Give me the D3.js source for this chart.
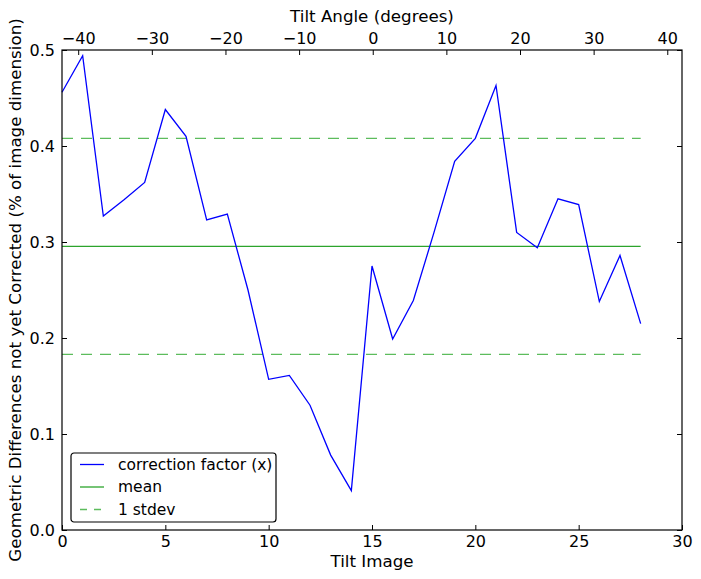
<!DOCTYPE html>
<html>
<head>
<meta charset="utf-8">
<script src="https://cdn.jsdelivr.net/npm/d3@7/dist/d3.min.js"></script>
<style>
  body { margin: 0; background: #fff; }
  text { font-family: "DejaVu Sans", sans-serif; fill: #000; }
</style>
</head>
<body>
<div id="chart"></div>
<script>
// correction factor for each tilt image
const tiltImages = d3.range(0, 29);
const correction = [0.456, 0.494, 0.327, 0.344, 0.362, 0.438, 0.410, 0.323, 0.329, 0.250,
                    0.157, 0.161, 0.130, 0.078, 0.041, 0.275, 0.199, 0.239, 0.310, 0.384,
                    0.408, 0.463, 0.310, 0.294, 0.345, 0.339, 0.238, 0.286, 0.215];
const meanValue = 0.2955;
const stdValue = 0.1125;
const xTicks = [0, 5, 10, 15, 20, 25, 30];
const yTicks = [0.0, 0.1, 0.2, 0.3, 0.4, 0.5];
const angleTicks = [-40, -30, -20, -10, 0, 10, 20, 30, 40];
const legendLabels = ["correction factor (x)", "mean", "1 stdev"];

const width = 701, height = 579;
const margin = {top: 50, right: 19, bottom: 49, left: 62};
const innerW = width - margin.left - margin.right;
const innerH = height - margin.top - margin.bottom;

const svg = d3.select("#chart").append("svg")
    .attr("width", width)
    .attr("height", height);

const g = svg.append("g")
    .attr("transform", `translate(${margin.left},${margin.top})`);

const x = d3.scaleLinear().domain([0, 30]).range([0, innerW]);
const xTop = d3.scaleLinear().domain([-42.2, 42.0]).range([0, innerW]);
const y = d3.scaleLinear().domain([0, 0.5]).range([innerH, 0]);

const blue = "#0000ff";
const green = "#2ca42c";
const greenDash = "#5cbc5c";

// reference lines
const refLines = [
    {v: meanValue, color: green, dash: null},
    {v: meanValue + stdValue, color: greenDash, dash: "11,8"},
    {v: meanValue - stdValue, color: greenDash, dash: "11,8"}
];
g.selectAll(".ref").data(refLines).enter().append("line")
    .attr("x1", x(0)).attr("x2", x(28))
    .attr("y1", d => y(d.v)).attr("y2", d => y(d.v))
    .attr("stroke", d => d.color)
    .attr("stroke-width", 1.3)
    .attr("stroke-dasharray", d => d.dash);

const line = d3.line()
    .x((d, i) => x(tiltImages[i]))
    .y(d => y(d));

g.append("path")
    .datum(correction)
    .attr("fill", "none")
    .attr("stroke", blue)
    .attr("stroke-width", 1.3)
    .attr("d", line);

// axes, ticks pointing inward
const tickLen = 5;
const fontSize = "16px";
const labelSize = "16.7px";

const axBottom = g.append("g")
    .attr("transform", `translate(0,${innerH})`)
    .call(d3.axisBottom(x).tickValues(xTicks).tickSizeInner(-tickLen).tickSizeOuter(0).tickPadding(6));
axBottom.selectAll("text").attr("font-size", fontSize);

const axTop = g.append("g")
    .call(d3.axisTop(xTop).tickValues(angleTicks).tickSizeInner(-tickLen).tickSizeOuter(0).tickPadding(6.5)
        .tickFormat(d => d < 0 ? "\u2212" + Math.abs(d) : d));
axTop.selectAll("text").attr("font-size", fontSize);

const axLeft = g.append("g")
    .call(d3.axisLeft(y).tickValues(yTicks).tickSizeInner(-tickLen).tickSizeOuter(0).tickPadding(7)
        .tickFormat(d3.format(".1f")));
axLeft.selectAll("text").attr("font-size", fontSize);

const axRight = g.append("g")
    .attr("transform", `translate(${innerW},0)`)
    .call(d3.axisRight(y).tickValues(yTicks).tickSizeInner(-tickLen).tickSizeOuter(0).tickFormat(""));

[axBottom, axTop, axLeft, axRight].forEach(a => {
    a.select(".domain").remove();
    a.selectAll("line").attr("stroke", "#000");
});

g.append("rect")
    .attr("width", innerW).attr("height", innerH)
    .attr("fill", "none").attr("stroke", "#000").attr("stroke-width", 1.2);

// axis labels
svg.append("text")
    .attr("x", margin.left + innerW / 2).attr("y", 566.5)
    .attr("text-anchor", "middle").attr("font-size", labelSize)
    .text("Tilt Image");

svg.append("text")
    .attr("x", margin.left + innerW / 2).attr("y", 22)
    .attr("text-anchor", "middle").attr("font-size", labelSize)
    .text("Tilt Angle (degrees)");

svg.append("text")
    .attr("transform", `translate(21,${margin.top + innerH / 2}) rotate(-90)`)
    .attr("text-anchor", "middle").attr("font-size", labelSize)
    .text("Geometric Differences not yet Corrected (% of image dimension)");

// legend
const legend = svg.append("g").attr("transform", "translate(71,453)");
legend.append("rect")
    .attr("width", 205).attr("height", 69).attr("rx", 3)
    .attr("fill", "#fff").attr("stroke", "#000").attr("stroke-width", 1.2);

const legendStyles = [
    {color: blue, dash: null},
    {color: green, dash: null},
    {color: greenDash, dash: "7,7"}
];
const items = legend.selectAll(".item").data(legendLabels).enter().append("g")
    .attr("transform", (d, i) => `translate(0,${11.5 + i * 22.5})`);
items.append("line")
    .attr("x1", 9).attr("x2", 33)
    .attr("stroke", (d, i) => legendStyles[i].color)
    .attr("stroke-width", 1.3)
    .attr("stroke-dasharray", (d, i) => legendStyles[i].dash);
items.append("text")
    .attr("x", 47).attr("dy", "0.35em")
    .attr("font-size", "15.5px")
    .text(d => d);
</script>
</body>
</html>
